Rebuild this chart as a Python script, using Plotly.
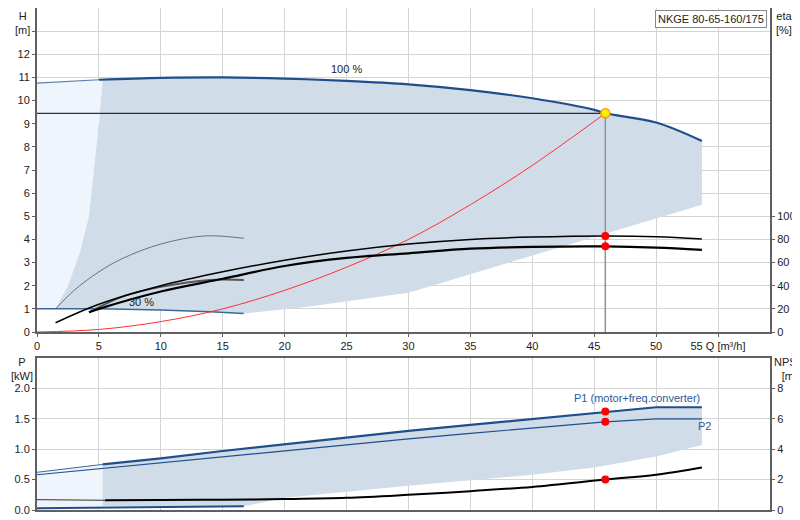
import plotly.graph_objects as go

# ---- data ----
q100 = [0, 5, 10, 15, 20, 25, 30, 35, 40, 45, 45.9, 50, 53.7]
h100 = [10.75, 10.9, 10.98, 11.0, 10.95, 10.85, 10.7, 10.45, 10.1, 9.6, 9.45, 9.05, 8.25]
q30 = [0, 5, 10, 14, 16.7]
h30 = [1.0, 1.0, 0.95, 0.88, 0.8]
q_left = [5.3, 5.0, 4.6, 4.2, 3.5, 2.5, 1.5]
h_left = [10.9, 9.0, 7.0, 5.0, 3.5, 2.0, 1.0]
q_low = [16.7, 22, 30, 35, 40, 45, 50, 53.7]
h_low = [0.8, 1.1, 1.7, 2.5, 3.3, 4.1, 4.9, 5.5]
q_sys = [0, 5, 10, 15, 20, 25, 30, 35, 40, 45.9]
h_sys = [0, 0.11, 0.45, 1.0, 1.8, 2.8, 4.0, 5.5, 7.2, 9.45]
q_eta1 = [1.5, 5, 10, 15, 20, 25, 30, 35, 40, 45.9, 50, 53.7]
eta1 = [8, 24, 40, 52, 62, 70, 76, 80, 82, 83, 82.4, 80.4]
q_eta2 = [4.2, 5, 10, 15, 20, 25, 30, 35, 40, 45.9, 50, 53.7]
eta2 = [17, 20, 35, 46, 57, 64, 68, 72, 73.6, 74, 73, 71]
q_eta30a = [1.5, 3, 5, 7, 10, 13.5, 16.7]
eta30a = [20, 36, 52, 64, 76, 83, 81]
q_eta30b = [4.2, 7, 10, 14, 16.7]
eta30b = [17, 31, 39, 45, 45]
q_duty = 45.9
h_duty = 9.45
eta_duty = [83, 74]

q_p1 = [0, 5.3, 10, 15, 20, 25, 30, 35, 40, 45.9, 50, 53.7]
p1 = [0.62, 0.75, 0.85, 0.97, 1.08, 1.2, 1.3, 1.4, 1.5, 1.62, 1.69, 1.69]
q_p2 = [0, 5, 10, 15, 20, 25, 30, 35, 40, 45.9, 50, 53.7]
p2 = [0.58, 0.68, 0.77, 0.87, 0.97, 1.07, 1.17, 1.26, 1.35, 1.45, 1.5, 1.5]
q_plow = [53.7, 50, 45, 40, 30, 20, 16.7, 5.3]
p_low = [1.07, 0.88, 0.7, 0.58, 0.4, 0.2, 0.06, 0.06]
q_plight = [0, 5.3, 5.3, 0]
p_light = [0.62, 0.75, 0.06, 0.0]
q_npsh = [5.5, 10, 15, 20, 25, 30, 35, 40, 45.9, 50, 53.7]
npsh = [0.64, 0.66, 0.68, 0.72, 0.8, 1.0, 1.24, 1.52, 2.0, 2.32, 2.8]
q_p30 = [0, 5, 10, 16.7]
p30 = [0.03, 0.04, 0.05, 0.06]
p_duty = [1.62, 1.45]
npsh_duty = 2.0

DARK = "#d0dce7"
LIGHT = "#eef5fc"
BLUE = "#1f4e8c"

fig = go.Figure()
fig.add_trace(go.Scatter(x=[0, 5.3] + q_left[1:] + [1.5, 0],
                         y=[10.75, 10.9] + h_left[1:] + [1.0, 1.0],
                         fill="toself", fillcolor=LIGHT, line_width=0, mode="lines", hoverinfo="skip"))
xd = q_left[::-1] + [x for x in q100 if x > 5.3] + q_low[::-1] + [14, 10, 5, 1.5]
yd = h_left[::-1] + [h for x, h in zip(q100, h100) if x > 5.3] + h_low[::-1] + [0.88, 0.95, 1.0, 1.0]
fig.add_trace(go.Scatter(x=xd, y=yd, fill="toself", fillcolor=DARK, line_width=0, mode="lines", hoverinfo="skip"))

fig.add_trace(go.Scatter(x=q100[:2], y=h100[:2], mode="lines", line=dict(color="#5a7fae", width=1.2)))
fig.add_trace(go.Scatter(x=q100[1:], y=h100[1:], mode="lines", line=dict(color=BLUE, width=2.2), line_shape="spline"))
fig.add_trace(go.Scatter(x=q30, y=h30, mode="lines", line=dict(color="#3b679c", width=1.5)))
fig.add_trace(go.Scatter(x=q_sys, y=h_sys, mode="lines", line=dict(color="#ff3030", width=1), line_shape="spline"))
fig.add_trace(go.Scatter(x=[0, q_duty], y=[h_duty, h_duty], mode="lines", line=dict(color="black", width=1)))
fig.add_trace(go.Scatter(x=[q_duty, q_duty], y=[0, h_duty], mode="lines", line=dict(color="#909090", width=1.5)))
fig.add_trace(go.Scatter(x=q_eta30a, y=eta30a, yaxis="y3", mode="lines", line=dict(color="#555", width=0.8), line_shape="spline"))
fig.add_trace(go.Scatter(x=q_eta30b, y=eta30b, yaxis="y3", mode="lines", line=dict(color="#555", width=2), line_shape="spline"))
fig.add_trace(go.Scatter(x=q_eta1, y=eta1, yaxis="y3", mode="lines", line=dict(color="black", width=1.5), line_shape="spline"))
fig.add_trace(go.Scatter(x=q_eta2, y=eta2, yaxis="y3", mode="lines", line=dict(color="black", width=2.2), line_shape="spline"))
fig.add_trace(go.Scatter(x=[q_duty] * 2, y=eta_duty, yaxis="y3", mode="markers", marker=dict(color="red", size=8)))
fig.add_trace(go.Scatter(x=[q_duty], y=[h_duty], mode="markers",
                         marker=dict(color="#ffee00", size=9, line=dict(color="#ff9900", width=1.5))))

fig.add_trace(go.Scatter(x=q_plight, y=p_light, xaxis="x2", yaxis="y2",
                         fill="toself", fillcolor=LIGHT, line_width=0, mode="lines", hoverinfo="skip"))
fig.add_trace(go.Scatter(x=q_p1[1:] + q_plow, y=p1[1:] + p_low, xaxis="x2", yaxis="y2",
                         fill="toself", fillcolor=DARK, line_width=0, mode="lines", hoverinfo="skip"))
fig.add_trace(go.Scatter(x=q_p1[:2], y=p1[:2], xaxis="x2", yaxis="y2", mode="lines", line=dict(color="#3b679c", width=1)))
fig.add_trace(go.Scatter(x=q_p1[1:], y=p1[1:], xaxis="x2", yaxis="y2", mode="lines", line=dict(color=BLUE, width=2.2)))
fig.add_trace(go.Scatter(x=q_p2, y=p2, xaxis="x2", yaxis="y2", mode="lines", line=dict(color=BLUE, width=1.2)))
fig.add_trace(go.Scatter(x=q_p30, y=p30, xaxis="x2", yaxis="y2", mode="lines", line=dict(color=BLUE, width=2)))
fig.add_trace(go.Scatter(x=[0, 5.5], y=[0.68, 0.64], xaxis="x2", yaxis="y4", mode="lines", line=dict(color="black", width=0.8)))
fig.add_trace(go.Scatter(x=q_npsh, y=npsh, xaxis="x2", yaxis="y4", mode="lines", line=dict(color="black", width=2), line_shape="spline"))
fig.add_trace(go.Scatter(x=[q_duty] * 2, y=p_duty, xaxis="x2", yaxis="y2", mode="markers", marker=dict(color="red", size=8)))
fig.add_trace(go.Scatter(x=[q_duty], y=[npsh_duty], xaxis="x2", yaxis="y4", mode="markers", marker=dict(color="red", size=8)))

F = dict(family="Liberation Sans, Arial", size=11, color="#222")
G = "#d4d4d4"
AX = "#606060"
xticks = list(range(0, 56, 5))
xtext = [str(v) for v in xticks[:-1]] + ["55 Q [m³/h]"]
common = dict(automargin=False, zeroline=False, showline=True, linecolor=AX, linewidth=2, tickcolor=AX)
fig.update_layout(
    width=800, height=520, margin=dict(l=0, r=0, t=0, b=0),
    paper_bgcolor="white", plot_bgcolor="white", showlegend=False, font=F,
    xaxis=dict(domain=[29 / 800, 762 / 800], range=[0, 59.2], tickvals=xticks, ticktext=xtext,
               showgrid=True, gridcolor=G, ticks="outside", ticklen=3, anchor="y", **common),
    yaxis=dict(domain=[1 - 324 / 520, 1], range=[0, 14], tickvals=list(range(0, 14)),
               ticktext=[str(v) for v in range(13)] + [""], showgrid=True, gridcolor=G,
               ticks="outside", ticklen=3, **common),
    yaxis3=dict(overlaying="y", side="right", range=[0, 280], tickvals=[0, 20, 40, 60, 80, 100],
                showgrid=False, ticks="outside", ticklen=3, anchor="x", **common),
    xaxis2=dict(domain=[29 / 800, 762 / 800], range=[0, 59.2], tickvals=xticks, showticklabels=False,
                showgrid=True, gridcolor=G, mirror=True, anchor="y2", **common),
    yaxis2=dict(domain=[18 / 520, 170 / 520], range=[0, 2.5], tickvals=[0, 0.5, 1.0, 1.5, 2.0],
                ticktext=["0.0", "0.5", "1.0", "1.5", "2.0"], showgrid=True, gridcolor=G,
                ticks="outside", ticklen=3, anchor="x2", **common),
    yaxis4=dict(overlaying="y2", side="right", range=[0, 10], tickvals=[0, 2, 4, 6, 8],
                showgrid=False, ticks="outside", ticklen=3, anchor="x2", **common),
    annotations=[
        dict(text="H<br>[m]", x=14 / 800, y=1.0, xref="paper", yref="paper", showarrow=False, font=F, xanchor="center", yanchor="top"),
        dict(text="eta<br>[%]", x=766 / 800, y=1.0, xref="paper", yref="paper", showarrow=False, font=F, xanchor="left", yanchor="top"),
        dict(text="P<br>[kW]", x=14 / 800, y=1 - 346 / 520, xref="paper", yref="paper", showarrow=False, font=F, xanchor="center", yanchor="top"),
        dict(text="NPSH<br>[m]", x=781 / 800, y=1 - 346 / 520, xref="paper", yref="paper", showarrow=False, font=F, xanchor="center", yanchor="top"),
        dict(text="NKGE 80-65-160/175", x=759 / 800, y=1 - 2 / 520, xref="paper", yref="paper", showarrow=False, font=F,
             xanchor="right", yanchor="top", bordercolor="#888", borderwidth=1, bgcolor="white", borderpad=2),
        dict(text="100 %", x=25, y=11.35, xref="x", yref="y", showarrow=False, font=F),
        dict(text="30 %", x=8.4, y=1.3, xref="x", yref="y", showarrow=False, font=F),
        dict(text="P1 (motor+freq.converter)", x=53.7, y=1.85, xref="x2", yref="y2", showarrow=False,
             font=dict(family=F["family"], size=11, color="#2a5a9a"), xanchor="right"),
        dict(text="P2", x=54.6, y=1.38, xref="x2", yref="y2", showarrow=False,
             font=dict(family=F["family"], size=11, color="#2a5a9a"), xanchor="right"),
    ],
)
fig.write_html("out.html")
